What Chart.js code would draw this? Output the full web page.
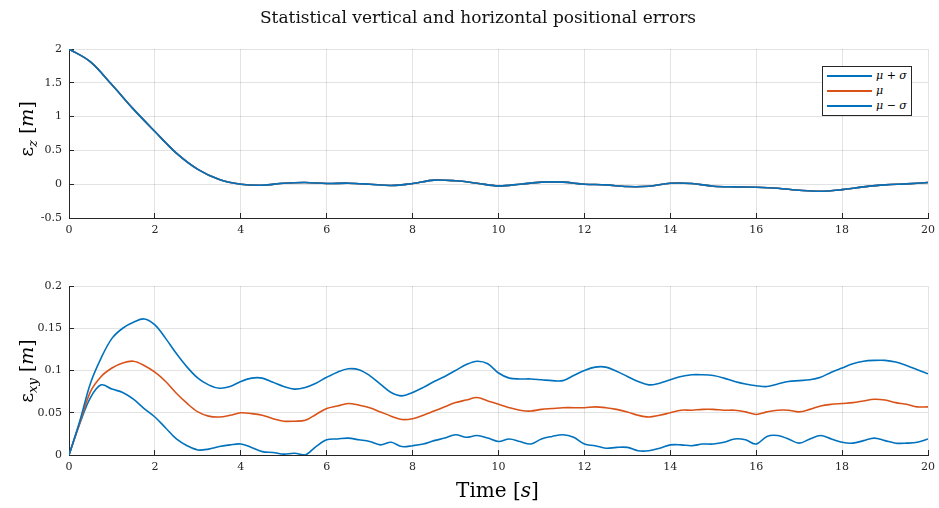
<!DOCTYPE html>
<html>
<head>
<meta charset="utf-8">
<script src="https://cdn.jsdelivr.net/npm/chart.js@4.4.0/dist/chart.umd.min.js"></script>
<style>
  body { margin: 0; background: #fff; }
  #wrap { position: relative; width: 939px; height: 508px; overflow: hidden;
          font-family: "DejaVu Serif", serif; color: #262626; }
  canvas { position: absolute; left: 0; }
  #topChart { top: 0; }
  #botChart { top: 254px; }
  .title { position: absolute; top: 7px; left: 0; width: 956px; text-align: center;
           font-size: 17px; color: #111; white-space: nowrap; }
  .ylab { position: absolute; transform: translate(-50%, -50%) rotate(-90deg);
          font-size: 19px; color: #000; white-space: nowrap; }
  .ylab sub { font-size: 13px; font-style: italic; vertical-align: -4px; }
  .ylab i, .xlab i { font-style: italic; }
  .xlab { position: absolute; left: 0; width: 995px; top: 478px; text-align: center;
          font-size: 20px; color: #000; white-space: nowrap; }
  .legend { position: absolute; left: 822px; top: 66px; width: 88px; height: 48px;
            border: 1px solid #262626; background: #fff; }
  .legend .row { position: absolute; left: 4px; height: 14px; font-size: 11px; font-style: italic;
                 color: #000; white-space: nowrap; line-height: 14px; }
  .legend .sw { display: inline-block; width: 45px; height: 2px; vertical-align: middle;
                margin-right: 4px; }
</style>
</head>
<body>
<div id="wrap">
  <canvas id="topChart" width="939" height="254"></canvas>
  <canvas id="botChart" width="939" height="254"></canvas>
  <div class="title">Statistical vertical and horizontal positional errors</div>
  <div class="ylab" style="left:27px; top:129px;">ε<sub>z</sub> [<i>m</i>]</div>
  <div class="ylab" style="left:27px; top:371px;">ε<sub>xy</sub> [<i>m</i>]</div>
  <div class="xlab">Time [<i>s</i>]</div>
  <div class="legend" id="legend"></div>
</div>
<script>
// time samples
const tTop = [0, 0.5, 1, 1.5, 2, 2.5, 3, 3.5, 4, 4.5, 5, 5.5, 6, 6.5, 7, 7.5, 8, 8.5, 9, 9.5, 10,
  10.5, 11, 11.5, 12, 12.5, 13, 13.5, 14, 14.5, 15, 15.5, 16, 16.5, 17, 17.5, 18, 18.5, 19, 19.5, 20];

const tBot = [0, 0.25, 0.5, 0.75, 1, 1.25, 1.5, 1.75, 2, 2.25, 2.5, 2.75, 3, 3.25, 3.5, 3.75,
  4, 4.25, 4.5, 4.75, 5, 5.25, 5.5, 5.75, 6, 6.25, 6.5, 6.75, 7, 7.25, 7.5, 7.75,
  8, 8.25, 8.5, 8.75, 9, 9.25, 9.5, 9.75, 10, 10.25, 10.5, 10.75, 11, 11.25, 11.5, 11.75,
  12, 12.25, 12.5, 12.75, 13, 13.25, 13.5, 13.75, 14, 14.25, 14.5, 14.75, 15, 15.25, 15.5, 15.75,
  16, 16.25, 16.5, 16.75, 17, 17.25, 17.5, 17.75, 18, 18.25, 18.5, 18.75, 19, 19.25, 19.5, 19.75, 20];

// vertical error (the three curves overlap)
const zPlus = [2.0, 1.81, 1.47, 1.11, 0.78, 0.46, 0.22, 0.07, 0.0, -0.015, 0.015, 0.025, 0.01, 0.015, 0.0, -0.02,
  0.01, 0.06, 0.05, 0.015, -0.025, 0.0, 0.03, 0.03, 0.0, -0.01, -0.035, -0.03, 0.015, 0.01,
  -0.03, -0.04, -0.045, -0.06, -0.09, -0.105, -0.08, -0.04, -0.01, 0.005, 0.025];
const zMean = [2.0, 1.81, 1.47, 1.11, 0.78, 0.46, 0.22, 0.07, 0.0, -0.015, 0.015, 0.025, 0.01, 0.015, 0.0, -0.02,
  0.01, 0.06, 0.05, 0.015, -0.025, 0.0, 0.03, 0.03, 0.0, -0.01, -0.035, -0.03, 0.015, 0.01,
  -0.03, -0.04, -0.045, -0.06, -0.09, -0.105, -0.08, -0.04, -0.01, 0.005, 0.025];
const zMinus = [2.0, 1.81, 1.47, 1.11, 0.78, 0.46, 0.22, 0.07, 0.0, -0.015, 0.015, 0.025, 0.01, 0.015, 0.0, -0.02,
  0.01, 0.06, 0.05, 0.015, -0.025, 0.0, 0.03, 0.03, 0.0, -0.01, -0.035, -0.03, 0.015, 0.01,
  -0.03, -0.04, -0.045, -0.06, -0.09, -0.105, -0.08, -0.04, -0.01, 0.005, 0.025];

// horizontal error
const xyPlus = [0, 0.040, 0.085, 0.115, 0.138, 0.150, 0.157, 0.161, 0.154, 0.138, 0.120, 0.104, 0.091, 0.083, 0.079, 0.081,
  0.087, 0.091, 0.091, 0.086, 0.081, 0.078, 0.080, 0.085, 0.092, 0.098, 0.102, 0.101, 0.094, 0.084, 0.074, 0.070,
  0.074, 0.080, 0.087, 0.093, 0.100, 0.107, 0.111, 0.108, 0.097, 0.091, 0.090, 0.090, 0.089, 0.088, 0.088, 0.094,
  0.100, 0.104, 0.104, 0.099, 0.093, 0.087, 0.083, 0.085, 0.089, 0.093, 0.095, 0.095, 0.094, 0.091, 0.087, 0.084,
  0.082, 0.081, 0.084, 0.087, 0.088, 0.089, 0.092, 0.098, 0.103, 0.108, 0.111, 0.112, 0.112, 0.110, 0.106, 0.101, 0.096];
const xyMean = [0, 0.038, 0.075, 0.093, 0.103, 0.109, 0.111, 0.106, 0.098, 0.087, 0.073, 0.061, 0.051, 0.046, 0.045, 0.047,
  0.050, 0.049, 0.047, 0.043, 0.040, 0.040, 0.041, 0.048, 0.055, 0.058, 0.061, 0.059, 0.056, 0.051, 0.046, 0.042,
  0.043, 0.047, 0.052, 0.057, 0.062, 0.065, 0.068, 0.064, 0.060, 0.056, 0.053, 0.052, 0.054, 0.055, 0.056, 0.056,
  0.056, 0.057, 0.056, 0.054, 0.051, 0.047, 0.045, 0.047, 0.050, 0.053, 0.053, 0.054, 0.054, 0.053, 0.053, 0.051,
  0.048, 0.051, 0.053, 0.053, 0.051, 0.054, 0.058, 0.060, 0.061, 0.062, 0.064, 0.066, 0.065, 0.062, 0.060, 0.057, 0.057];
const xyMinus = [0, 0.037, 0.068, 0.083, 0.078, 0.074, 0.066, 0.055, 0.045, 0.032, 0.019, 0.011, 0.006, 0.007, 0.010, 0.012,
  0.013, 0.009, 0.004, 0.003, 0.001, 0.002, 0.000, 0.010, 0.018, 0.019, 0.020, 0.018, 0.016, 0.012, 0.015, 0.010,
  0.011, 0.013, 0.017, 0.020, 0.024, 0.021, 0.023, 0.020, 0.016, 0.019, 0.016, 0.013, 0.019, 0.022, 0.024, 0.021,
  0.013, 0.011, 0.008, 0.009, 0.009, 0.005, 0.005, 0.008, 0.012, 0.012, 0.011, 0.013, 0.013, 0.015, 0.019, 0.018,
  0.013, 0.022, 0.023, 0.019, 0.014, 0.019, 0.023, 0.019, 0.015, 0.014, 0.017, 0.020, 0.017, 0.014, 0.014, 0.015, 0.019];

const seriesLabels = ['μ + σ', 'μ', 'μ − σ'];
const seriesColors = ['#0072BD', '#D95319', '#0072BD'];

const AXIS = '#262626';
const GRID = 'rgba(38,38,38,0.13)';
const FONT = { family: 'DejaVu Serif', size: 11 };

function toPoints(t, v) {
  return t.map((x, i) => ({ x: x, y: v[i] }));
}

function makeDatasets(t, arrays) {
  return arrays.map((v, i) => ({
    label: seriesLabels[i],
    data: toPoints(t, v),
    borderColor: seriesColors[i],
    borderWidth: 1.6,
    pointRadius: 0,
    tension: 0.35,
    fill: false
  }));
}

// 0.50 -> "0.5", 1.0 -> "1", like the reference
const fmt = (v) => String(parseFloat(Number(v).toFixed(3)));

function makeOptions(yMin, yMax, yStep, padTop, xHeight) {
  return {
    responsive: false,
    animation: false,
    layout: { padding: { top: padTop, right: 11, bottom: 0, left: 0 } },
    plugins: { legend: { display: false }, tooltip: { enabled: false } },
    scales: {
      x: {
        type: 'linear',
        min: 0,
        max: 20,
        afterFit: (s) => { s.height = xHeight; s.paddingLeft = 0; s.paddingRight = 0; },
        grid: { color: GRID, tickLength: -5, tickColor: AXIS },
        border: { display: true, color: AXIS, width: 1 },
        ticks: { stepSize: 2, color: AXIS, font: FONT, padding: 11, maxRotation: 0, callback: fmt }
      },
      y: {
        min: yMin,
        max: yMax,
        afterFit: (s) => { s.width = 69; s.paddingTop = 0; s.paddingBottom = 0; },
        grid: { color: GRID, tickLength: -5, tickColor: AXIS },
        border: { display: true, color: AXIS, width: 1 },
        ticks: { stepSize: yStep, color: AXIS, font: FONT, padding: 12, callback: fmt }
      }
    }
  };
}

const topChart = new Chart(document.getElementById('topChart'), {
  type: 'line',
  data: { datasets: makeDatasets(tTop, [zPlus, zMean, zMinus]) },
  options: makeOptions(-0.5, 2, 0.5, 49, 36)
});

const botChart = new Chart(document.getElementById('botChart'), {
  type: 'line',
  data: { datasets: makeDatasets(tBot, [xyPlus, xyMean, xyMinus]) },
  options: makeOptions(0, 0.2, 0.05, 32, 53)
});

// legend box inside the upper panel
const legend = document.getElementById('legend');
topChart.data.datasets.forEach((ds, i) => {
  const row = document.createElement('div');
  row.className = 'row';
  row.style.top = (2 + i * 15) + 'px';
  row.innerHTML = '<span class="sw" style="background:' + ds.borderColor + '"></span>' + ds.label;
  legend.appendChild(row);
});
</script>
</body>
</html>
